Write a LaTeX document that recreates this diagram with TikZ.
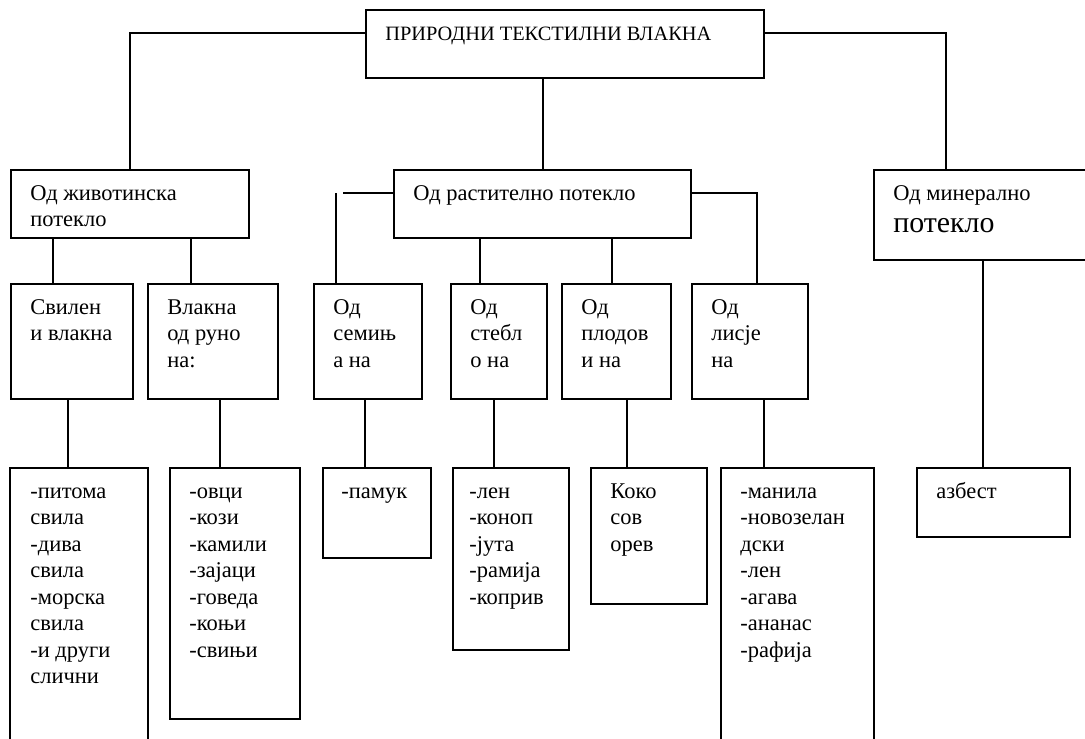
\documentclass[tikz,border=0pt]{standalone}
\usepackage{fontspec}
\setmainfont{Liberation Serif}
\usetikzlibrary{calc}

\begin{document}
\begin{tikzpicture}[
  x=0.02cm, y=-0.02cm,
  sz/.style 2 args={minimum width=#1*0.02cm, minimum height=#2*0.02cm},
  box/.style={rectangle, draw=black, line width=1.15pt, anchor=north west, inner sep=0pt},
  txt/.style={anchor=north west, inner sep=0pt, align=left,
              font=\fontsize{12.8}{15.08}\selectfont},
  ln/.style={line width=1.15pt}
]
  \useasboundingbox (0,0) rectangle (1085,739);
  \clip (0,0) rectangle (1085,739);

  % boxes
  \node[box, sz={398}{68}]  (top)    at (365,9)   {};
  \node[box, sz={238}{68}]  (anim)   at (10,169)  {};
  \node[box, sz={297}{68}]  (plant)  at (393,169) {};
  \node[box, sz={230}{90}]  (miner)  at (873,169) {};
  \node[box, sz={122}{115}] (svilen) at (10,283)  {};
  \node[box, sz={130}{115}] (vlakna) at (147,283) {};
  \node[box, sz={108}{115}] (semi)   at (313,283) {};
  \node[box, sz={96}{115}]  (stebl)  at (450,283) {};
  \node[box, sz={109}{115}] (plodov) at (561,283) {};
  \node[box, sz={116}{115}] (lisje)  at (691,283) {};
  \node[box, sz={138}{290}] (pitoma) at (9,467)   {};
  \node[box, sz={130}{251}] (ovci)   at (169,467) {};
  \node[box, sz={108}{90}]  (pamuk)  at (322,467) {};
  \node[box, sz={116}{182}] (len)    at (452,467) {};
  \node[box, sz={116}{136}] (koko)   at (590,467) {};
  \node[box, sz={153}{290}] (manila) at (720,467) {};
  \node[box, sz={153}{69}]  (azbest) at (916,467) {};

  % texts
  \node[txt, font=\fontsize{11.6}{15.08}\selectfont] (top-t) at ($(top.north west)+(20,12.4)$) {\strut ПРИРОДНИ ТЕКСТИЛНИ ВЛАКНА};
  \node[txt] (anim-t)   at ($(anim.north west)+(20,12.4)$)   {\strut Од животинска\\потекло};
  \node[txt] (plant-t)  at ($(plant.north west)+(20,12.4)$)  {\strut Од растително потекло};
  \node[txt] (miner-t)  at ($(miner.north west)+(20,12.4)$)  {\strut Од минерално\\[3pt]\fontsize{17}{20}\selectfont потекло};
  \node[txt] (svilen-t) at ($(svilen.north west)+(20,12.4)$) {\strut Свилен\\и влакна};
  \node[txt] (vlakna-t) at ($(vlakna.north west)+(20,12.4)$) {\strut Влакна\\од руно\\на:};
  \node[txt] (semi-t)   at ($(semi.north west)+(20,12.4)$)   {\strut Од\\семињ\\а на};
  \node[txt] (stebl-t)  at ($(stebl.north west)+(20,12.4)$)  {\strut Од\\стебл\\о на};
  \node[txt] (plodov-t) at ($(plodov.north west)+(20,12.4)$) {\strut Од\\плодов\\и на};
  \node[txt] (lisje-t)  at ($(lisje.north west)+(20,12.4)$)  {\strut Од\\лисје\\на};
  \node[txt] (pitoma-t) at ($(pitoma.north west)+(21,12.4)$) {\strut -питома\\свила\\-дива\\свила\\-морска\\свила\\-и други\\слични};
  \node[txt] (ovci-t)   at ($(ovci.north west)+(20,12.4)$)   {\strut -овци\\-кози\\-камили\\-зајаци\\-говеда\\-коњи\\-свињи};
  \node[txt] (pamuk-t)  at ($(pamuk.north west)+(19,12.4)$)  {\strut -памук};
  \node[txt] (len-t)    at ($(len.north west)+(17,12.4)$)    {\strut -лен\\-коноп\\-јута\\-рамија\\-коприв};
  \node[txt] (koko-t)   at ($(koko.north west)+(20,12.4)$)   {\strut Коко\\сов\\орев};
  \node[txt] (manila-t) at ($(manila.north west)+(20,12.4)$) {\strut -манила\\-новозелан\\дски\\-лен\\-агава\\-ананас\\-рафија};
  \node[txt] (azbest-t) at ($(azbest.north west)+(20,12.4)$) {\strut азбест};

  % first level
  \draw[ln] ($(top.west)+(0,-11)$) -| (anim.north);
  \draw[ln] ($(top.east)+(0,-11)$) -| ($(miner.north west)+(73,0)$);
  \draw[ln] (top.south -| plant.north) -- (plant.north);

  % second level
  \draw[ln] ($(svilen.north west)+(43,0)$) coordinate (u1) -- (u1 |- anim.south);
  \draw[ln] ($(vlakna.north west)+(44,0)$) coordinate (u2) -- (u2 |- anim.south);
  \coordinate (stub) at ($(plant.west)+(-50,-11)$);
  \draw[ln] (stub) -- (stub -| plant.west);
  \draw[ln] ($(semi.north west)+(23,0)$) coordinate (u3) -- (u3 |- stub);
  \draw[ln] ($(stebl.north west)+(30,0)$) coordinate (u4) -- (u4 |- plant.south);
  \draw[ln] ($(plodov.north west)+(51,0)$) coordinate (u5) -- (u5 |- plant.south);
  \draw[ln] ($(plant.east)+(0,-11)$) -| ($(lisje.north west)+(66,0)$);

  % third level
  \draw[ln] ($(pitoma.north west)+(59,0)$) coordinate (d1) -- (d1 |- svilen.south);
  \draw[ln] ($(ovci.north west)+(51,0)$)   coordinate (d2) -- (d2 |- vlakna.south);
  \draw[ln] ($(pamuk.north west)+(43,0)$)  coordinate (d3) -- (d3 |- semi.south);
  \draw[ln] ($(len.north west)+(42,0)$)    coordinate (d4) -- (d4 |- stebl.south);
  \draw[ln] ($(koko.north west)+(37,0)$)   coordinate (d5) -- (d5 |- plodov.south);
  \draw[ln] ($(manila.north west)+(44,0)$) coordinate (d6) -- (d6 |- lisje.south);
  \draw[ln] ($(azbest.north west)+(67,0)$) coordinate (d7) -- (d7 |- miner.south);
\end{tikzpicture}
\end{document}
